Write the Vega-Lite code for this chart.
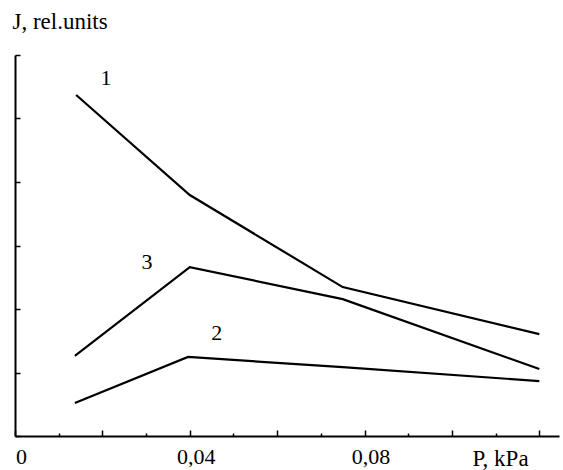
{
  "$schema": "https://vega.github.io/schema/vega-lite/v6.json",
  "width": 544,
  "height": 381,
  "autosize": "none",
  "padding": {"left": 15, "top": 55, "right": 4, "bottom": 34},
  "background": "white",
  "config": {
    "view": {"stroke": null},
    "font": "Liberation Serif",
    "axis": {"grid": false, "domainColor": "black", "domainWidth": 2, "tickColor": "black", "tickWidth": 1.5, "labelColor": "black", "titleColor": "black", "labelFont": "Liberation Serif", "titleFont": "Liberation Serif", "titleFontWeight": "normal"}
  },
  "datasets": {
    "curves": [
      {"P": 0.014, "J": 10.74, "curve": "1"},
      {"P": 0.04, "J": 7.59, "curve": "1"},
      {"P": 0.075, "J": 4.69, "curve": "1"},
      {"P": 0.12, "J": 3.21, "curve": "1"},
      {"P": 0.0137, "J": 1.04, "curve": "2"},
      {"P": 0.0396, "J": 2.49, "curve": "2"},
      {"P": 0.075, "J": 2.17, "curve": "2"},
      {"P": 0.12, "J": 1.73, "curve": "2"},
      {"P": 0.0137, "J": 2.52, "curve": "3"},
      {"P": 0.04, "J": 5.32, "curve": "3"},
      {"P": 0.075, "J": 4.31, "curve": "3"},
      {"P": 0.12, "J": 2.11, "curve": "3"}
    ],
    "labels": [
      {"P": 0.0208, "J": 11.28, "label": "1"},
      {"P": 0.0462, "J": 3.24, "label": "2"},
      {"P": 0.0302, "J": 5.48, "label": "3"}
    ]
  },
  "layer": [
    {
      "data": {"name": "curves"},
      "mark": {"type": "line", "color": "black", "strokeWidth": 2.2},
      "encoding": {
        "x": {
          "field": "P", "type": "quantitative",
          "scale": {"domain": [0, 0.1245], "nice": false, "zero": true},
          "axis": {
            "values": [0, 0.01, 0.02, 0.03, 0.04, 0.05, 0.06, 0.07, 0.08, 0.09, 0.1, 0.11, 0.12],
            "labelExpr": "datum.value == 0 ? '0' : (abs(datum.value - 0.04) < 0.000001 ? '0,04' : (abs(datum.value - 0.08) < 0.000001 ? '0,08' : ''))",
            "tickSize": {"condition": {"test": "round(datum.value * 100) % 2 == 0", "value": -6}, "value": -3},
            "labelFont": "Liberation Serif",
            "labelFontSize": 22,
            "labelPadding": 16,
            "labelOffset": 6,
            "labelFlush": false,
            "labelOverlap": false,
            "title": "P, kPa",
            "titleFont": "Liberation Serif",
            "titleFontSize": 23,
            "titleFontWeight": "normal",
            "titleX": 485,
            "titleY": 29,
            "titleAlign": "center",
            "titleBaseline": "alphabetic"
          }
        },
        "y": {
          "field": "J", "type": "quantitative",
          "scale": {"domain": [0, 12], "nice": false},
          "axis": {
            "values": [0, 1, 2, 3, 4, 5, 6, 7, 8, 9, 10, 11, 12],
            "labels": false,
            "tickSize": {"condition": {"test": "datum.value % 2 == 0", "value": -5}, "value": -3},
            "title": "J, rel.units",
            "titleFont": "Liberation Serif",
            "titleFontSize": 23,
            "titleFontWeight": "normal",
            "titleAngle": 0,
            "titleX": -3,
            "titleY": -27,
            "titleAlign": "left",
            "titleBaseline": "alphabetic"
          }
        },
        "detail": {"field": "curve", "type": "nominal"}
      }
    },
    {
      "data": {"name": "labels"},
      "mark": {"type": "text", "font": "Liberation Serif", "fontSize": 22, "color": "black", "align": "center", "baseline": "middle"},
      "encoding": {
        "x": {"field": "P", "type": "quantitative"},
        "y": {"field": "J", "type": "quantitative"},
        "text": {"field": "label", "type": "nominal"}
      }
    }
  ]
}
